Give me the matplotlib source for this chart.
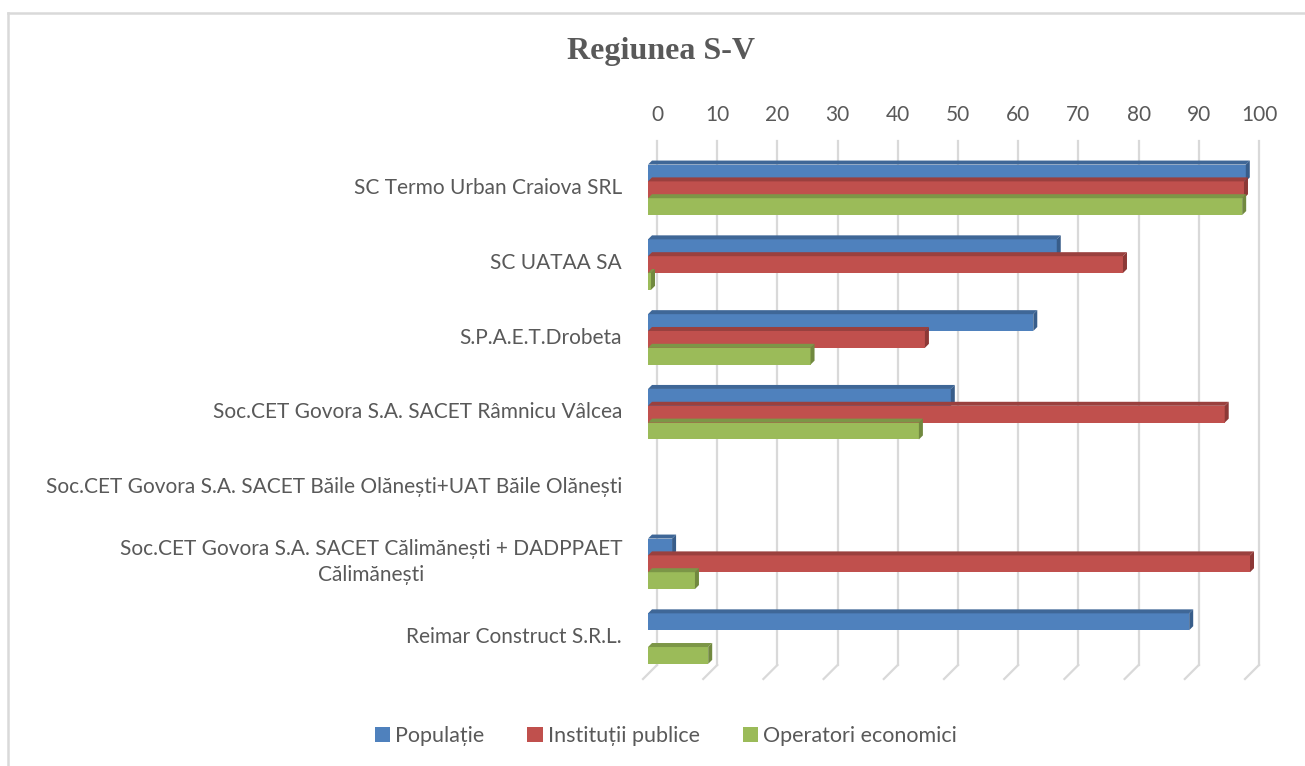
import matplotlib
matplotlib.use("Agg")
import matplotlib.pyplot as plt
from matplotlib.patches import Polygon, Patch
from matplotlib.lines import Line2D
import matplotlib.transforms as mtransforms

plt.rcParams['font.family'] = ['Lato', 'DejaVu Sans']

title = "Regiunea S-V"
categories = [
    "SC Termo Urban Craiova SRL",
    "SC UATAA SA",
    "S.P.A.E.T.Drobeta",
    "Soc.CET Govora S.A. SACET Râmnicu Vâlcea",
    "Soc.CET Govora S.A. SACET Băile Olănești+UAT Băile Olănești",
    "Soc.CET Govora S.A. SACET Călimănești + DADPPAET\nCălimănești",
    "Reimar Construct S.R.L.",
]
series_names = ["Populație", "Instituții publice", "Operatori economici"]
populatie = [99.3, 67.9, 64.0, 50.3, 0, 4.0, 89.9]
institutii = [99.0, 78.9, 46.0, 95.8, 0, 100.0, 0]
operatori = [98.7, 0.5, 27.0, 45.0, 0, 7.8, 10.0]
xticks = [0, 10, 20, 30, 40, 50, 60, 70, 80, 90, 100]

front_colors = ["#4F81BD", "#C0504D", "#9BBB59"]
top_colors = ["#3F6797", "#9A403E", "#7C9647"]
side_colors = ["#385D8A", "#8C3836", "#71893F"]
text_color = "#595959"
grid_color = "#D9D9D9"

W, H = 1305, 766
fig = plt.figure(figsize=(W / 100, H / 100), dpi=100)
ax = fig.add_axes([657 / W, 1 - 665 / H, 602 / W, 523.6 / H])
ax.set_xlim(0, 100)
ax.set_ylim(6.5, -0.5)
for s in ax.spines.values():
    s.set_visible(False)

# pixel -> data conversion factors
px_x = 100.0 / 602.0
px_y = 7.0 / 523.6

# back-plane gridlines + floor slant
floor = 14
for xv in xticks:
    ax.plot([xv, xv], [-0.5, 6.5], color=grid_color, lw=1.6, clip_on=False, zorder=1)
    ax.plot([xv, xv - floor * px_x], [6.5, 6.5 + floor * px_y], color=grid_color,
            lw=1.6, clip_on=False, zorder=1)

ax.xaxis.tick_top()
ax.set_xticks(xticks)
ax.set_xticklabels([str(t) for t in xticks])
ax.tick_params(axis='x', length=0, pad=12, labelsize=15, colors=text_color)
ax.set_yticks([])

# bars with 3D look
off_x, off_y = 9, 11         # front face offset from back plane (px)
depth = 4                    # bar depth (px)
bh = 0.225
ydx = [-bh, 0, bh]
series = [populatie, institutii, operatori]
dx_d = depth * px_x
dy_d = depth * px_y
shift = mtransforms.ScaledTranslation(-off_x / 100, -off_y / 100, fig.dpi_scale_trans)
tr = ax.transData + shift
for si, vals in enumerate(series):
    for i, v in enumerate(vals):
        if v <= 0:
            continue
        yc = i + ydx[si]
        y0, y1 = yc - bh / 2, yc + bh / 2
        bars = ax.barh([yc], [v], height=bh, color=front_colors[si],
                       zorder=3 + si, edgecolor='none')
        for r in bars:
            r.set_transform(tr)
            r.set_clip_on(False)
        top = Polygon([(0, y0), (v, y0), (v + dx_d, y0 - dy_d), (dx_d, y0 - dy_d)],
                      closed=True, facecolor=top_colors[si], edgecolor='none',
                      transform=tr, zorder=3 + si, clip_on=False)
        side = Polygon([(v, y0), (v + dx_d, y0 - dy_d), (v + dx_d, y1 - dy_d), (v, y1)],
                       closed=True, facecolor=side_colors[si], edgecolor='none',
                       transform=tr, zorder=3 + si, clip_on=False)
        ax.add_patch(top)
        ax.add_patch(side)
ax.set_xlim(0, 100)
ax.set_ylim(6.5, -0.5)

# category labels
for i, c in enumerate(categories):
    fig.text(622 / W, 1 - (188 + 74.8 * i) / H, c, fontsize=15, color=text_color,
             ha='right', va='center', multialignment='center', linespacing=1.35)

fig.text(661 / W, 1 - 52 / H, title, fontsize=23, fontweight='bold',
         family='Liberation Serif', color=text_color, ha='center', va='center')

handles = [Patch(facecolor=c, edgecolor='none') for c in front_colors]
fig.legend(handles, series_names, loc='center', bbox_to_anchor=(666 / W, 1 - 736 / H),
           ncol=3, frameon=False, fontsize=15.5, handlelength=0.7, handleheight=0.7,
           handletextpad=0.25, columnspacing=2.0, labelcolor=text_color)

# chart border (left and top)
fig.add_artist(Line2D([8 / W, 8 / W], [0, 1 - 13 / H], color="#D9D9D9", lw=1.8,
                      transform=fig.transFigure))
fig.add_artist(Line2D([8 / W, 1], [1 - 13 / H, 1 - 13 / H], color="#D9D9D9", lw=1.8,
                      transform=fig.transFigure))

fig.savefig("out.png", dpi=100)
